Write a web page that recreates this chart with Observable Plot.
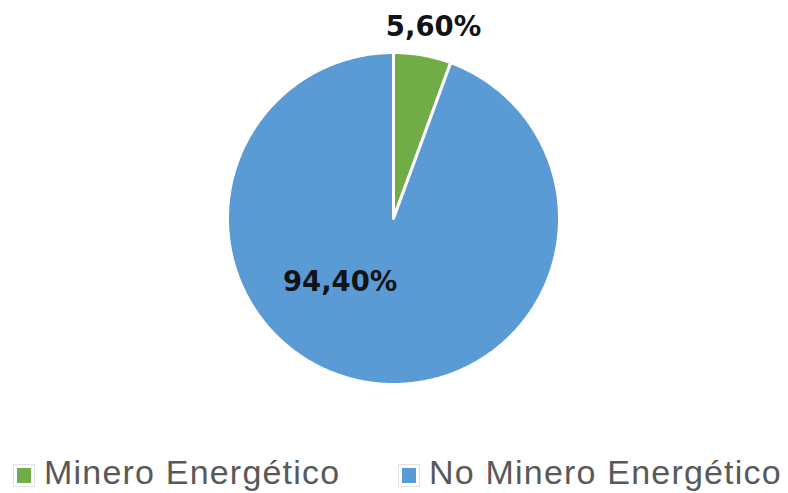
<!DOCTYPE html>
<html><head><meta charset="utf-8">
<script src="https://cdn.jsdelivr.net/npm/d3@7"></script>
<script src="https://cdn.jsdelivr.net/npm/@observablehq/plot@0.6"></script>
<style>
body{margin:0;background:#fff;}
#chart{position:relative;width:788px;height:493px;overflow:hidden;background:#fff}
#chart svg{position:absolute;left:0;top:0}
.legend{position:absolute;left:0;top:452px;width:788px;height:41px;font-family:"Liberation Sans",Arial,sans-serif;font-size:34px;color:#595959;letter-spacing:1.2px}
.item{position:absolute;top:0;display:flex;align-items:center;height:41px;white-space:nowrap}
.sw{width:14px;height:15px;border:3px solid #fff;outline:1px solid #e2e2e2;margin-right:10px;margin-top:5px}
</style></head><body><div id="chart"></div>
<script>
const categories = ["Minero Energético", "No Minero Energético"];
const values = [5.6, 94.4];
const valueLabels = ["5,60%", "94,40%"];
const colors = ["#70AD47", "#5B9BD5"];

const pie = d3.pie().sort(null).value(d => d)(values);
const pts = [];
pie.forEach((s, i) => {
  const cat = categories[i];
  pts.push({x: 0, y: 0, cat});
  const n = Math.max(4, Math.ceil((s.endAngle - s.startAngle) / 0.01));
  for (let k = 0; k <= n; k++) {
    const a = s.startAngle + (s.endAngle - s.startAngle) * k / n;
    pts.push({x: Math.sin(a), y: Math.cos(a), cat});
  }
});

// label placement (Excel-like): outside for small slice, best-fit inside for large
const labelPlace = [{r: 1.18, da: 0.03}, {r: 0.5, angle: 220 * Math.PI / 180}];
const labelData = pie.map((s, i) => {
  const p = labelPlace[i];
  const a = p.angle !== undefined ? p.angle : (s.startAngle + s.endAngle) / 2 + p.da;
  return {x: p.r * Math.sin(a), y: p.r * Math.cos(a), text: valueLabels[i]};
});

const plot = Plot.plot({
  width: 788, height: 445, margin: 0,
  x: {domain: [-1, 1], range: [227, 559], axis: null},
  y: {domain: [-1, 1], range: [384, 52], axis: null},
  color: {domain: categories, range: colors},
  style: {background: "transparent", overflow: "visible"},
  marks: [
    Plot.line(pts, {x: "x", y: "y", z: "cat", fill: "cat", stroke: "white", strokeWidth: 3, strokeLinejoin: "round", curve: "linear-closed"}),
    Plot.text(labelData, {x: "x", y: "y", text: "text", fontSize: 27.5, fontWeight: "bold", fill: "#111318", fontFamily: "DejaVu Sans", lineAnchor: "middle", textAnchor: "middle"})
  ]
});
const chart = document.getElementById("chart");
chart.appendChild(plot);

const legend = document.createElement("div");
legend.className = "legend";
const lefts = [14, 399];
categories.forEach((c, i) => {
  const it = document.createElement("div");
  it.className = "item";
  it.style.left = lefts[i] + "px";
  const sw = document.createElement("span");
  sw.className = "sw";
  sw.style.background = colors[i];
  it.appendChild(sw);
  const tx = document.createElement("span");
  tx.textContent = c;
  it.appendChild(tx);
  legend.appendChild(it);
});
chart.appendChild(legend);
</script></body></html>
